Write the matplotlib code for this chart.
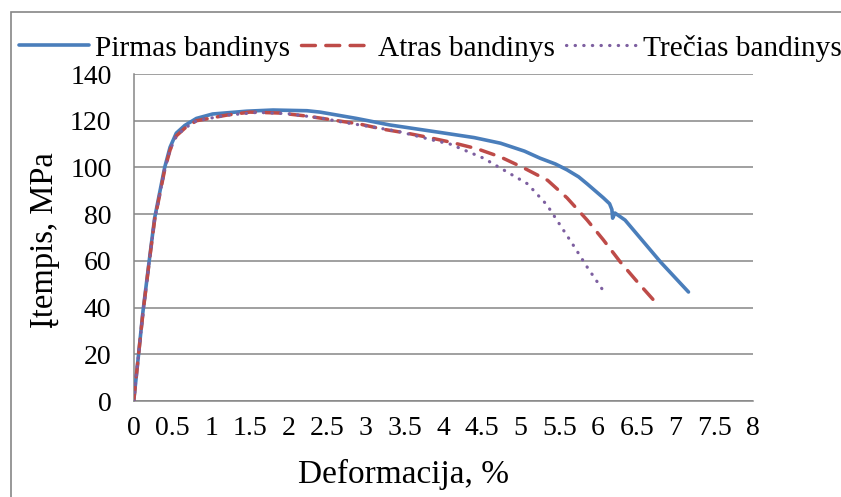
import matplotlib
matplotlib.use("Agg")
import matplotlib.pyplot as plt
from matplotlib.patches import Rectangle

plt.rcParams['font.family'] = ['Liberation Serif', 'DejaVu Serif']

# Stress-strain curves of three specimens
pirmas_x = [0, 0.05, 0.12, 0.20, 0.27, 0.34, 0.40, 0.47, 0.55, 0.66, 0.81, 1.02,
            1.46, 1.8, 2.24, 2.41, 2.88, 3.31, 3.96, 4.40, 4.74, 5.05, 5.25, 5.45,
            5.60, 5.75, 5.86, 6.07, 6.15, 6.18, 6.19, 6.22, 6.35, 6.46, 6.81, 7.17]
pirmas_y = [0, 16, 38.5, 60, 78.3, 90, 100, 108.7, 114.7, 118, 121, 122.9,
            124.1, 124.6, 124.3, 123.7, 121, 118.2, 115, 112.8, 110.4, 107, 104,
            101.5, 99, 96, 93, 87, 84.5, 82, 78.3, 80.5, 77.5, 73.2, 59.5, 46.7]

atras_x = [0, 0.05, 0.12, 0.20, 0.27, 0.34, 0.40, 0.47, 0.55, 0.66, 0.81, 1.2,
           1.5, 1.89, 2.24, 2.58, 2.92, 3.22, 3.53, 3.79, 4.1, 4.44, 4.74, 5.03,
           5.35, 5.60, 5.86, 6.07, 6.29, 6.51, 6.72]
atras_y = [0, 16, 38, 59.5, 77.5, 89, 99, 107.5, 113.5, 116.8, 120, 122.4,
           123.7, 123.3, 122, 120.3, 118.6, 116.4, 114.7, 113, 110.8, 108, 104.5,
           100, 94.5, 87, 77.5, 69, 59.5, 51, 43.2]

trecias_x = [0, 0.05, 0.12, 0.20, 0.27, 0.34, 0.40, 0.47, 0.55, 0.66, 0.81, 1.2,
             1.6, 2.0, 2.45, 2.70, 3.0, 3.40, 3.87, 4.09, 4.52, 4.83, 5.09, 5.34,
             5.51, 5.68, 5.86, 6.08]
trecias_y = [0, 16, 38, 59.5, 77.5, 89, 99, 107.5, 113.5, 116.8, 120, 122.4,
             123.6, 123, 121, 119.4, 117.8, 115.6, 111.7, 110, 104, 98, 93, 84,
             75.4, 66.8, 57.4, 46.7]

series_names = ["Pirmas bandinys", "Atras bandinys", "Trečias bandinys"]
x_ticks = [0, 0.5, 1, 1.5, 2, 2.5, 3, 3.5, 4, 4.5, 5, 5.5, 6, 6.5, 7, 7.5, 8]
y_ticks = [0, 20, 40, 60, 80, 100, 120, 140]

GRID = "#868686"

fig = plt.figure(figsize=(8.41, 4.97), dpi=100)
ax = fig.add_axes([0.159, 0.193, 0.736, 0.658])

ax.plot(pirmas_x, pirmas_y, color="#4A7EBB", lw=2.6, solid_capstyle="round",
        solid_joinstyle="round", label=series_names[0], zorder=3)
ax.plot(atras_x, atras_y, color="#BE4B48", lw=2.5, dashes=(4, 3),
        dash_capstyle="round", label=series_names[1], zorder=3)
ax.plot(trecias_x, trecias_y, color="#7D5FA0", lw=2.3, dashes=(0.1, 2.6),
        dash_capstyle="round", label=series_names[2], zorder=3)

ax.set_xlim(0, 8)
ax.set_ylim(0, 140)
ax.set_xticks(x_ticks)
ax.set_xticklabels([f"{t:g}" for t in x_ticks])
ax.set_yticks(y_ticks)
ax.grid(axis="y", color=GRID, lw=1.1)
ax.set_axisbelow(True)
for side in ("top", "right"):
    ax.spines[side].set_visible(False)
for side in ("left", "bottom"):
    ax.spines[side].set_color(GRID)
    ax.spines[side].set_linewidth(1.1)
ax.tick_params(axis="both", length=0, labelsize=20)
ax.tick_params(axis="y", pad=16)
ax.tick_params(axis="x", pad=11)

fig.text(404 / 841, 1 - 474 / 497, "Deformacija, %", fontsize=24,
         ha="center", va="center")
fig.text(45 / 841, 1 - 240 / 497, "Įtempis, MPa", fontsize=23.5,
         ha="center", va="center", rotation=90)

fig.legend(loc="center", bbox_to_anchor=(430 / 841, 1 - 48 / 497), ncol=3,
           frameon=False, fontsize=21.2, handlelength=2.4, handletextpad=0.2,
           columnspacing=0.38, borderpad=0, borderaxespad=0)

fig.patches.append(Rectangle((11 / 841, -0.05), 1.2, 0.05 + (1 - 12 / 497),
                             transform=fig.transFigure, fill=False,
                             edgecolor=GRID, lw=1.2))

fig.savefig("out.png", dpi=100)
